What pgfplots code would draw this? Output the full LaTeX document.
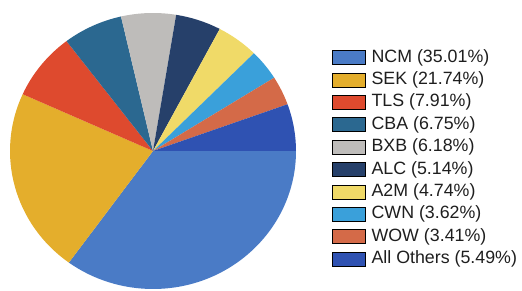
\documentclass[border=0pt]{standalone}
\usepackage{pgfplots}
\pgfplotsset{compat=1.18}
\usepackage{pgfplotstable}
\usepackage{fontspec}
\setmainfont{Liberation Sans}
\definecolor{cNCM}{HTML}{4A7BC6}
\definecolor{cSEK}{HTML}{E4AE2C}
\definecolor{cTLS}{HTML}{DE4A2E}
\definecolor{cCBA}{HTML}{2B6890}
\definecolor{cBXB}{HTML}{BEBCBA}
\definecolor{cALC}{HTML}{26406A}
\definecolor{cA2M}{HTML}{F0DA68}
\definecolor{cCWN}{HTML}{3AA0DA}
\definecolor{cWOW}{HTML}{D46A48}
\definecolor{cOTH}{HTML}{2F52B2}
\definecolor{txt}{HTML}{1E1E1E}
\pgfplotstableread[col sep=comma]{
label,value,color
NCM,35.01,cNCM
SEK,21.74,cSEK
TLS,7.91,cTLS
CBA,6.75,cCBA
BXB,6.18,cBXB
ALC,5.14,cALC
A2M,4.74,cA2M
CWN,3.62,cCWN
WOW,3.41,cWOW
All Others,5.49,cOTH
}\piedata
\begin{document}
\begin{tikzpicture}
\begin{axis}[
  scale only axis, width=522pt, height=291pt, hide axis,
  xmin=-1.06993, xmax=2.58042, ymin=-1.01449, ymax=1.09420,
  clip=false,
  legend style={at={(axis cs:1.2517,0.7392)}, anchor=north west, draw=none, fill=none,
    inner sep=0pt, font=\fontsize{17.8}{20}\selectfont, text=txt,
    nodes={inner sep=0pt, text height=13pt, text depth=3.5pt},
    row sep=5.9pt, column sep=6pt},
  legend cell align=left,
  legend image code/.code={\fill[#1] (0pt,-7pt) rectangle (33pt,7pt);},
]
\pgfmathsetmacro\cum{0}
\pgfplotsforeachungrouped \i in {0,...,9}{%
  \pgfplotstablegetelem{\i}{value}\of\piedata \let\v=\pgfplotsretval
  \pgfplotstablegetelem{\i}{color}\of\piedata \let\c=\pgfplotsretval
  \pgfmathsetmacro\a{-3.6*\cum}%
  \pgfmathsetmacro\b{-3.6*(\cum+\v)}%
  \edef\temp{\noexpand\fill[\c] (axis cs:0,0) -- (axis cs:{cos(\a)},{sin(\a)}) arc[start angle=\a, end angle=\b, x radius=143pt, y radius=138pt] -- cycle;}%
  \temp
  \pgfmathsetmacro\cum{\cum+\v}%
}
\addlegendimage{fill=cNCM}\addlegendentry{NCM (35.01\%)}
\addlegendimage{fill=cSEK}\addlegendentry{SEK (21.74\%)}
\addlegendimage{fill=cTLS}\addlegendentry{TLS (7.91\%)}
\addlegendimage{fill=cCBA}\addlegendentry{CBA (6.75\%)}
\addlegendimage{fill=cBXB}\addlegendentry{BXB (6.18\%)}
\addlegendimage{fill=cALC}\addlegendentry{ALC (5.14\%)}
\addlegendimage{fill=cA2M}\addlegendentry{A2M (4.74\%)}
\addlegendimage{fill=cCWN}\addlegendentry{CWN (3.62\%)}
\addlegendimage{fill=cWOW}\addlegendentry{WOW (3.41\%)}
\addlegendimage{fill=cOTH}\addlegendentry{All Others (5.49\%)}
\end{axis}
\pgfresetboundingbox
\path[use as bounding box] (current axis.south west) rectangle (current axis.north east);
\end{tikzpicture}
\end{document}
